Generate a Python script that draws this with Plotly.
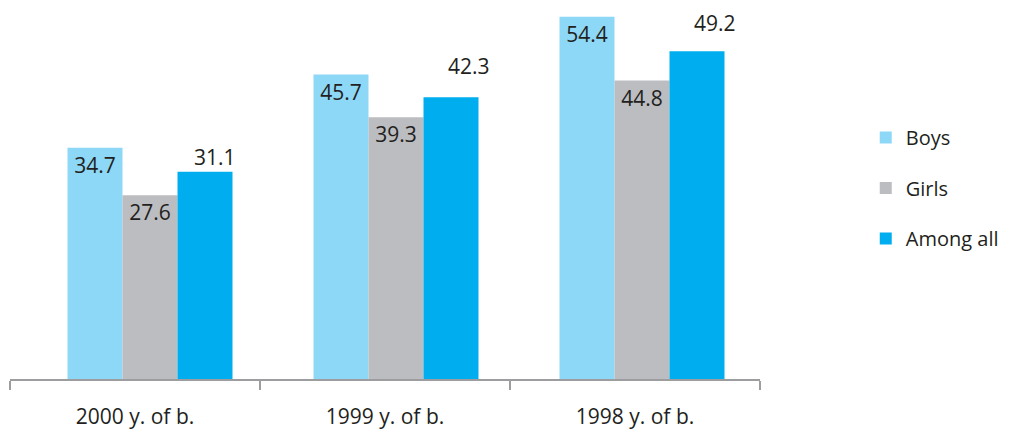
import plotly.graph_objects as go

categories = ["2000 y. of b.", "1999 y. of b.", "1998 y. of b."]
boys = [34.7, 45.7, 54.4]
girls = [27.6, 39.3, 44.8]
among_all = [31.1, 42.3, 49.2]

FONT = "Open Sans"
TXT = "#231f20"

# small rightward shift of each bar group within its category (category units)
group_shift = [0.06, 0.044, 0.028]
BAR_W = 0.22

fig = go.Figure()
series = [
    ("Boys", boys, "#8dd8f7", -0.33),
    ("Girls", girls, "#bcbdc0", -0.11),
    ("Among all", among_all, "#00aeef", 0.11),
]
for i, (name, vals, color, off) in enumerate(series):
    inside = name != "Among all"
    fig.add_trace(go.Bar(
        x=categories, y=vals, name=name,
        marker=dict(color=color, line=dict(width=0)),
        width=BAR_W, offset=[off + s for s in group_shift],
        text=[f"{v:.1f}" for v in vals] if inside else None,
        textposition="inside" if inside else "none",
        insidetextanchor="end",
        textangle=0,
        textfont=dict(family=FONT, size=21, color=TXT),
        legendgroup=f"g{i}",
        cliponaxis=False,
    ))

# labels for "Among all" sit above and slightly right of their bars
yshifts = [0, 16, 13]
xshifts = [80, 84, 80]
for c, v, ys, xs in zip(categories, among_all, yshifts, xshifts):
    fig.add_annotation(
        x=c, y=v, xref="x", yref="y", text=f"{v:.1f}", showarrow=False,
        xanchor="center", yanchor="bottom", xshift=xs, yshift=ys,
        borderpad=0,
        font=dict(family=FONT, size=21, color=TXT),
    )

fig.update_layout(
    width=1007, height=424,
    margin=dict(l=2, r=255, t=0, b=53, autoexpand=False),
    paper_bgcolor="white", plot_bgcolor="white",
    barmode="overlay",
    font=dict(family=FONT, size=21, color=TXT),
    showlegend=True,
    legend=dict(
        x=1.141, xanchor="left", y=0.515, yanchor="middle",
        traceorder="grouped", tracegroupgap=21.5,
        font=dict(family=FONT, size=20, color=TXT),
        bgcolor="rgba(0,0,0,0)",
    ),
    xaxis=dict(
        type="category", showgrid=False, zeroline=False,
        showline=True, linecolor="#9d9d9f", linewidth=2,
        ticks="outside", tickson="boundaries", ticklen=9, tickwidth=1.5,
        tickcolor="#9d9d9f", ticklabelstandoff=18,
        tickfont=dict(family=FONT, size=21, color=TXT),
    ),
    yaxis=dict(visible=False, range=[0, 55.7], showgrid=False, zeroline=False),
)

fig.write_html("out.html")
